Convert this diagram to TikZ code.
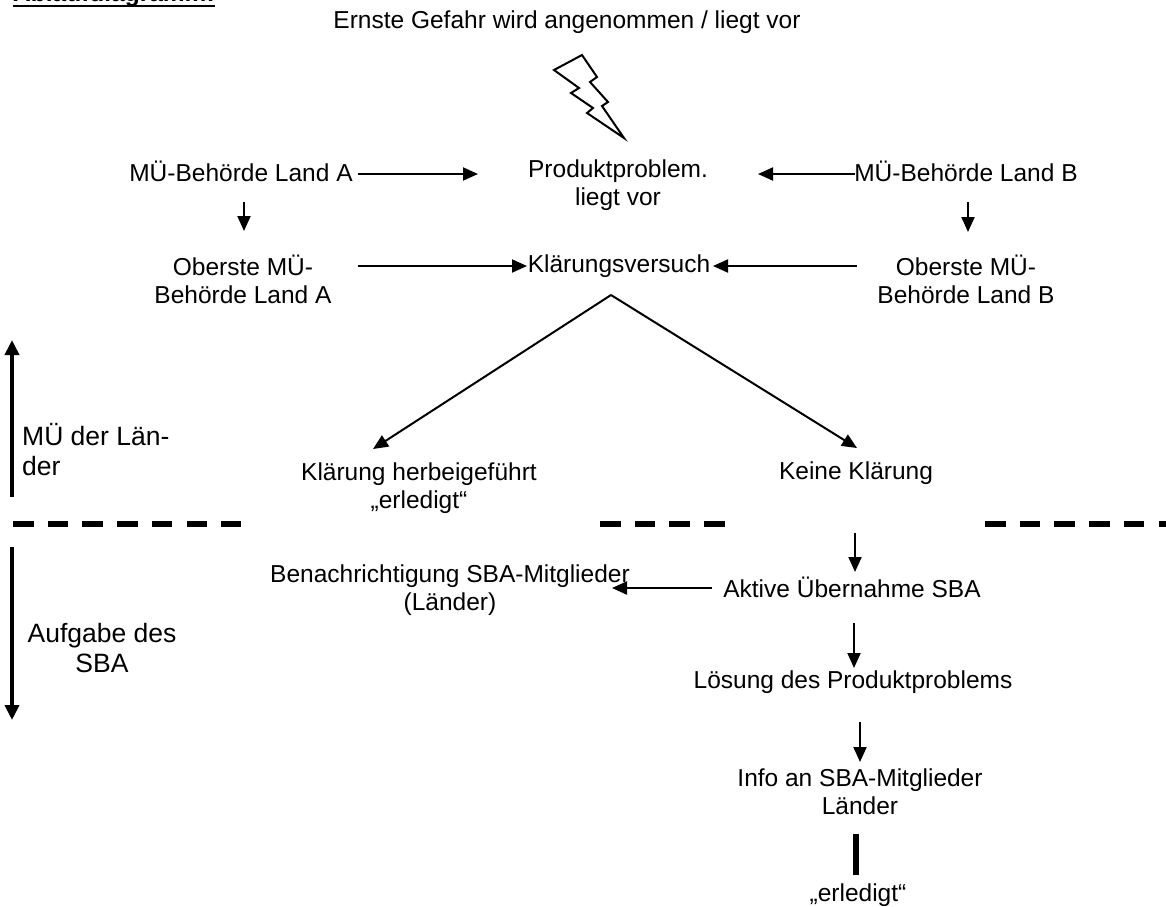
\documentclass[tikz,border=0pt]{standalone}
\usepackage{fontspec}
\setmainfont{Liberation Sans}
\usetikzlibrary{arrows.meta}
\begin{document}
\begin{tikzpicture}[x=1pt,y=-1pt,
  txt/.style={inner sep=0pt, align=center, font=\fontsize{24.5}{28}\selectfont},
  lbl/.style={inner sep=0pt, font=\fontsize{26.5}{30}\selectfont},
  arr/.style={line width=2pt, -{Triangle[length=15pt,width=13pt]}},
  bigarr/.style={line width=4pt, -{Triangle[length=15pt,width=14pt]}},
  sepline/.style={line width=5.5pt, dash pattern=on 20.5pt off 14.2pt},
  bolt/.style={line width=2pt, line join=miter},
  bar/.style={line width=6pt}
]
\useasboundingbox (0,0) rectangle (1166,906);

% heading (cut off at the top, as in the reference)
\node[txt, anchor=base west, font=\fontsize{24.5}{28}\selectfont\bfseries] (hd) at (13,1) {Ablaufdiagramm:};
\draw[line width=2pt] ([yshift=-5pt]hd.base west) -- ([yshift=-5pt]hd.base east);

% nodes
\node[txt] (gef) at (567,22) {Ernste Gefahr wird angenommen / liegt vor};
\node[txt] (la) at (241,171) {MÜ-Behörde Land A};
\node[txt] (pp) at (618,185) {Produktproblem.\\liegt vor};
\node[txt] (lb) at (966,171) {MÜ-Behörde Land B};
\node[txt] (oa) at (243,279) {Oberste MÜ-\\Behörde Land A};
\node[txt] (kv) at (619,266) {Klärungsversuch};
\node[txt] (ob) at (966,279) {Oberste MÜ-\\Behörde Land B};
\node[txt] (kh) at (419,488) {Klärung herbeigeführt\\„erledigt“};
\node[txt] (kk) at (856,473) {Keine Klärung};
\node[txt] (bn) at (450,590) {Benachrichtigung SBA-Mitglieder\\(Länder)};
\node[txt] (ak) at (852,587) {Aktive Übernahme SBA};
\node[txt] (ls) at (853,682) {Lösung des Produktproblems};
\node[txt] (inf) at (860,792) {Info an SBA-Mitglieder\\Länder};
\node[txt] (er) at (858,895) {„erledigt“};

\node[lbl, align=left, anchor=west] (mu) at (22,450) {MÜ der Län-\\der};
\node[lbl, align=center] (ag) at (102,648) {Aufgabe des\\SBA};

% lightning
\draw[bolt] (554,70) -- (582,55) -- (597,77) -- (590,82) -- (608,102) -- (602,106)
  -- (624,138) -- (587,113) -- (593,108) -- (571,93) -- (579,88) -- cycle;

% connectors
\draw[arr, shorten <=117pt, shorten >=140pt] ([yshift=-3pt]la.center) -- ([yshift=-3pt]la.center -| pp.center);
\draw[arr, shorten <=111pt, shorten >=140pt] ([yshift=-3pt]lb.center) -- ([yshift=-3pt]lb.center -| pp.center);
\draw[arr, shorten <=31pt, shorten >=48pt] ([xshift=3pt]la.center) -- ([xshift=3pt]la.center |- oa.center);
\draw[arr, shorten <=31pt, shorten >=47pt] ([xshift=2pt]lb.center) -- ([xshift=2pt]lb.center |- ob.center);
\draw[arr, shorten <=115pt, shorten >=92pt] (oa.center |- kv.center) -- (kv.center);
\draw[arr, shorten <=109pt, shorten >=94pt] (ob.center |- kv.center) -- (kv.center);

\coordinate (apex) at ([xshift=-8pt,yshift=-29pt]kv.center);
\draw[arr] (apex) -- ([xshift=-46pt,yshift=39pt]kh.center);
\draw[arr] (apex) -- ([xshift=1pt,yshift=25pt]kk.center);

\draw[arr, shorten <=60pt, shorten >=15pt] ([xshift=-1pt]kk.center) -- ([xshift=-1pt]kk.center |- ak.center);
\draw[arr, shorten <=140pt, shorten >=162pt] ([yshift=-1pt]ak.center) -- ([yshift=-1pt]ak.center -| bn.center);
\draw[arr, shorten <=36pt, shorten >=14pt] ([xshift=2pt]ak.center) -- ([xshift=2pt]ak.center |- ls.center);
\draw[arr, shorten <=40pt, shorten >=30pt] (inf.center |- ls.center) -- (inf.center);
\draw[bar, shorten <=42pt, shorten >=20pt] ([xshift=-4pt]inf.center) -- ([xshift=-4pt]inf.center |- er.center);

% left range arrows
\coordinate (u1) at (12,497);
\coordinate (u2) at (12,340);
\coordinate (d1) at (12,547);
\coordinate (d2) at (12,720);
\draw[bigarr] (u1) -- (u2);
\draw[bigarr] (d1) -- (d2);

% dashed separator
\coordinate (s1a) at (13,524);
\coordinate (s1b) at (241,524);
\coordinate (s2a) at (600,524);
\coordinate (s2b) at (725,524);
\coordinate (s3a) at (985,524);
\coordinate (s3b) at (1170,524);
\draw[sepline] (s1a) -- (s1b);
\draw[sepline] (s2a) -- (s2b);
\draw[sepline] (s3a) -- (s3b);
\end{tikzpicture}
\end{document}
